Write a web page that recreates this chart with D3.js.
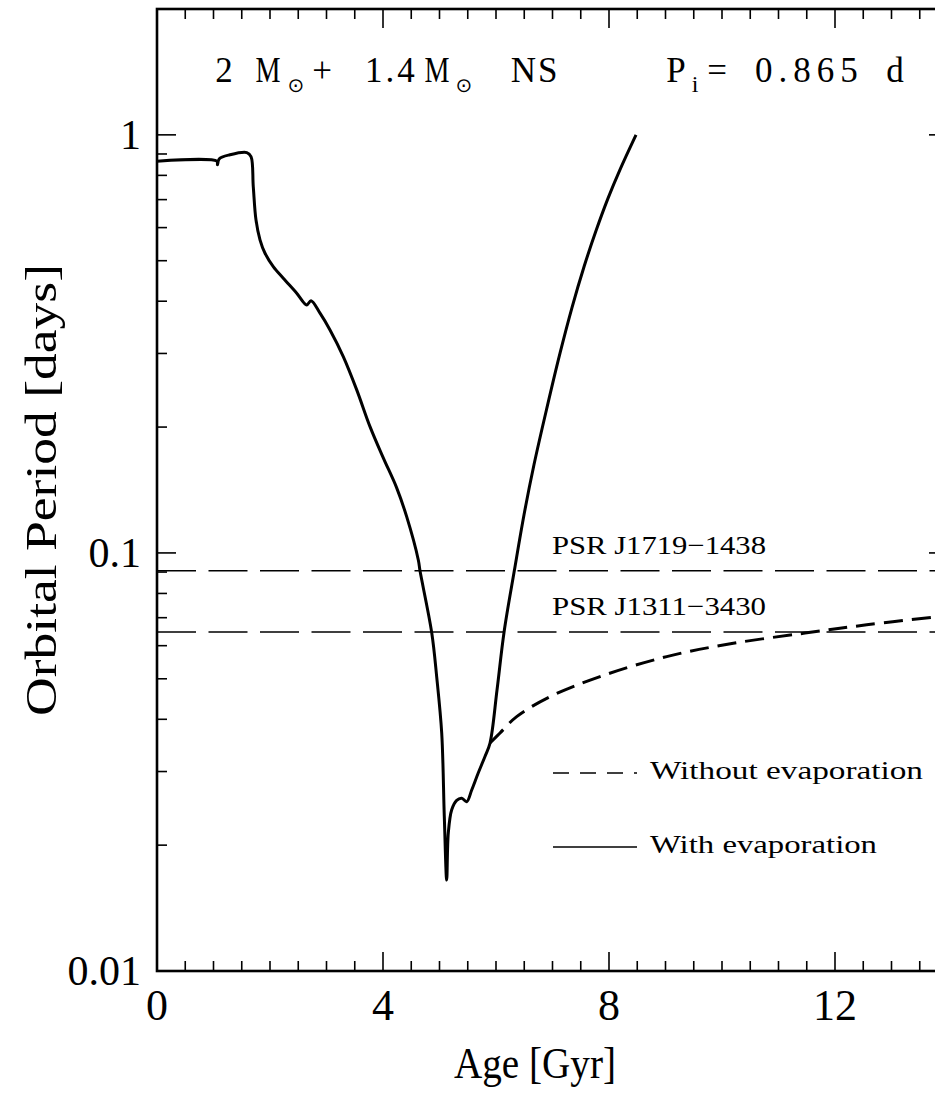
<!DOCTYPE html>
<html>
<head>
<meta charset="utf-8">
<script src="https://cdn.jsdelivr.net/npm/d3@7"></script>
<style>
  html, body { margin: 0; padding: 0; background: #fff; overflow: hidden; }
  svg { display: block; }
  text { font-family: "Liberation Serif", "DejaVu Serif", serif; fill: #000; }
</style>
</head>
<body>
<div id="chart"></div>
<script>
// age [Gyr] and orbital period [days]
const ageWith = [0, 1.06, 1.07, 1.10, 1.29, 1.59, 1.664, 1.704, 1.752, 1.823, 1.912, 2.058, 2.235, 2.473, 2.650, 2.726, 2.885,
    3.062, 3.297, 3.535, 3.770, 4.005, 4.242, 4.419, 4.625, 4.655, 4.862, 4.950, 5.039, 5.085, 5.127,
    5.156, 5.216, 5.304, 5.393, 5.481, 5.570, 5.687, 5.805, 5.894, 6.018, 6.143, 6.324, 6.496, 6.673,
    6.903, 7.133, 7.345, 7.558, 7.770, 7.982, 8.195, 8.478];
const periodWith = [0.865, 0.865, 0.848, 0.876, 0.896, 0.907, 0.887, 0.752, 0.626, 0.561, 0.521, 0.484, 0.454, 0.418, 0.392, 0.401, 0.3745,
    0.3415, 0.2949, 0.2455, 0.2005, 0.1688, 0.1431, 0.1221, 0.0962, 0.0906, 0.0645, 0.0506, 0.0371, 0.0234, 0.0165,
    0.0214, 0.0243, 0.0256, 0.0259, 0.0254, 0.0271, 0.0298, 0.0326, 0.0351, 0.0470, 0.0647, 0.0906, 0.1234, 0.1627,
    0.2229, 0.3004, 0.3862, 0.4836, 0.5896, 0.7048, 0.8259, 1.0];

const ageWithout = [5.894, 6.071, 6.366, 6.956, 7.841, 9.021, 10.20, 11.469, 12.561, 13.77, 14];
const periodWithout = [0.0351, 0.0371, 0.0406, 0.0453, 0.0506, 0.0565, 0.0608, 0.0643, 0.0673, 0.0702, 0.0706];

const pulsarNames = ["PSR J1719\u22121438", "PSR J1311\u22123430"];
const pulsarPeriods = [0.0907, 0.0647];

const xTicks = [0, 4, 8, 12];
const yTicks = [0.01, 0.1, 1];
const yTickLabels = ["0.01", "0.1", "1"];

const W = 935, H = 1096;
const margin = { left: 157, right: 948, top: 9, bottom: 971 };

const x = d3.scaleLinear().domain([0, 14]).range([margin.left, margin.right]);
const y = d3.scaleLog().domain([0.01, 2]).range([margin.bottom, margin.top]);

const svg = d3.select("#chart").append("svg")
    .attr("width", W).attr("height", H);

svg.append("clipPath").attr("id", "plot")
    .append("rect")
    .attr("x", margin.left).attr("y", margin.top)
    .attr("width", margin.right - margin.left).attr("height", margin.bottom - margin.top);

// minor ticks
const xMinor = d3.range(0, 14.01, 0.5).filter(v => v % 4 !== 0);
const yMinor = [];
[0.01, 0.1, 1].forEach(d => { for (let k = 2; k <= 9; k++) if (d * k <= 2) yMinor.push(d * k); });

const ticks = svg.append("g").attr("stroke", "#000").attr("stroke-width", 1.6);
const bigT = 19, smallT = 10;

xTicks.forEach(v => {
    ticks.append("line").attr("x1", x(v)).attr("x2", x(v)).attr("y1", margin.bottom).attr("y2", margin.bottom - bigT);
    ticks.append("line").attr("x1", x(v)).attr("x2", x(v)).attr("y1", margin.top).attr("y2", margin.top + bigT);
});
xMinor.forEach(v => {
    ticks.append("line").attr("x1", x(v)).attr("x2", x(v)).attr("y1", margin.bottom).attr("y2", margin.bottom - smallT);
    ticks.append("line").attr("x1", x(v)).attr("x2", x(v)).attr("y1", margin.top).attr("y2", margin.top + smallT);
});
yTicks.forEach(v => {
    ticks.append("line").attr("y1", y(v)).attr("y2", y(v)).attr("x1", margin.left).attr("x2", margin.left + bigT);
    ticks.append("line").attr("y1", y(v)).attr("y2", y(v)).attr("x1", margin.right).attr("x2", margin.right - bigT);
});
yMinor.forEach(v => {
    ticks.append("line").attr("y1", y(v)).attr("y2", y(v)).attr("x1", margin.left).attr("x2", margin.left + smallT);
    ticks.append("line").attr("y1", y(v)).attr("y2", y(v)).attr("x1", margin.right).attr("x2", margin.right - smallT);
});

// frame
svg.append("rect")
    .attr("x", margin.left).attr("y", margin.top)
    .attr("width", margin.right - margin.left).attr("height", margin.bottom - margin.top)
    .attr("fill", "none").attr("stroke", "#000").attr("stroke-width", 2.6);

// tick labels
svg.selectAll(".xlab").data(xTicks).enter().append("text")
    .attr("x", d => x(d)).attr("y", 1020)
    .attr("text-anchor", "middle")
    .style("font-size", "44px")
    .text(d => d);

svg.selectAll(".ylab").data(yTicks).enter().append("text")
    .attr("x", 141).attr("y", d => y(d) + 14)
    .attr("text-anchor", "end")
    .style("font-size", "42px")
    .text((d, i) => yTickLabels[i]);

// axis titles
svg.append("text")
    .attr("x", 535).attr("y", 1078)
    .attr("text-anchor", "middle")
    .style("font-size", "44px")
    .attr("textLength", 162).attr("lengthAdjust", "spacingAndGlyphs")
    .text("Age [Gyr]");

svg.append("text")
    .attr("transform", "translate(56,490) rotate(-90)")
    .attr("text-anchor", "middle")
    .style("font-size", "44px")
    .attr("textLength", 452).attr("lengthAdjust", "spacingAndGlyphs")
    .text("Orbital Period [days]");

// pulsar reference lines
const plot = svg.append("g").attr("clip-path", "url(#plot)");

plot.selectAll(".psr").data(pulsarPeriods).enter().append("line")
    .attr("x1", margin.left).attr("x2", margin.right)
    .attr("y1", d => y(d)).attr("y2", d => y(d))
    .attr("stroke", "#000").attr("stroke-width", 1.5)
    .attr("stroke-dasharray", "39,12.5");

svg.selectAll(".psrlab").data(pulsarPeriods).enter().append("text")
    .attr("x", 552).attr("y", d => y(d) - 17)
    .style("font-size", "26px")
    .attr("textLength", 214).attr("lengthAdjust", "spacingAndGlyphs")
    .text((d, i) => pulsarNames[i]);

// model tracks
const line = d3.line()
    .x(d => x(d[0]))
    .y(d => y(d[1]))
    .curve(d3.curveCatmullRom.alpha(0.5));

plot.append("path")
    .attr("d", line(d3.zip(ageWithout, periodWithout)))
    .attr("fill", "none").attr("stroke", "#000").attr("stroke-width", 3)
    .attr("stroke-dasharray", "19,9");

plot.append("path")
    .attr("d", line(d3.zip(ageWith, periodWith)))
    .attr("fill", "none").attr("stroke", "#000").attr("stroke-width", 3)
    .attr("stroke-linejoin", "round");

// legend
const legend = [
    { label: "Without evaporation", dash: "16,11", y: 773, len: 273 },
    { label: "With evaporation", dash: null, y: 847, len: 227 }
];
legend.forEach(l => {
    svg.append("line")
        .attr("x1", 553).attr("x2", 637).attr("y1", l.y).attr("y2", l.y)
        .attr("stroke", "#000").attr("stroke-width", 1.5)
        .attr("stroke-dasharray", l.dash);
    svg.append("text")
        .attr("x", 650).attr("y", l.y + 6)
        .style("font-size", "26px")
        .attr("textLength", l.len).attr("lengthAdjust", "spacingAndGlyphs")
        .text(l.label);
});

// header annotations, placed piece by piece
const header = [
    { t: "2", x: 224, a: "middle" },
    { t: "M", x: 268, a: "middle", w: 25 },
    { t: "\u2299", x: 296, a: "middle", sub: true },
    { t: "+", x: 322, a: "middle" },
    { t: "1.4", x: 365, a: "start", ls: 3 },
    { t: "M", x: 437, a: "middle", w: 25 },
    { t: "\u2299", x: 464, a: "middle", sub: true },
    { t: "NS", x: 535, a: "middle", ls: 2 },
    { t: "P", x: 676, a: "middle" },
    { t: "i", x: 695, a: "middle", sub: true },
    { t: "=", x: 717, a: "middle" },
    { t: "0.865", x: 755, a: "start", ls: 6 },
    { t: "d", x: 895, a: "middle" }
];
header.forEach(h => {
    const el = svg.append("text")
        .attr("x", h.x).attr("y", h.sub ? 92 : 82)
        .attr("text-anchor", h.a)
        .style("font-size", h.sub ? (h.t === "i" ? "24px" : "20px") : "35px")
        .style("letter-spacing", h.ls ? h.ls + "px" : null)
        .style("font-family", h.t === "\u2299" ? "DejaVu Sans" : null)
        .text(h.t);
    if (h.w) el.attr("textLength", h.w).attr("lengthAdjust", "spacingAndGlyphs");
});
</script>
</body>
</html>
